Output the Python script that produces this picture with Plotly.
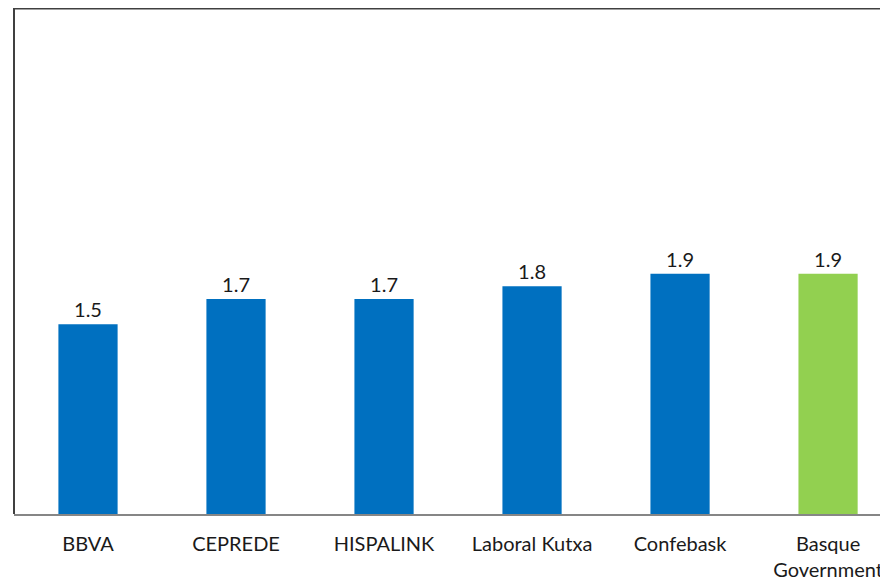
import plotly.graph_objects as go

categories = ["BBVA", "CEPREDE", "HISPALINK", "Laboral Kutxa", "Confebask", "Basque<br>Government"]
values = [1.5, 1.7, 1.7, 1.8, 1.9, 1.9]
value_labels = ["1.5", "1.7", "1.7", "1.8", "1.9", "1.9"]
colors = ["#0070C0", "#0070C0", "#0070C0", "#0070C0", "#0070C0", "#92D050"]

FONT = "Lato"

fig = go.Figure()
fig.add_trace(go.Bar(
    x=categories, y=values, marker=dict(color=colors, line=dict(width=0)),
    text=value_labels, textposition="outside", cliponaxis=False,
    textfont=dict(family=FONT, size=20, color="#1a1a1a"),
    width=0.4,
))

fig.update_layout(
    width=880, height=573,
    margin=dict(l=6, r=0, t=0, b=67),
    paper_bgcolor="white", plot_bgcolor="white",
    showlegend=False,
    font=dict(family=FONT, size=20, color="#1a1a1a"),
    xaxis=dict(range=[-0.5, 5.405], showline=True, linecolor="#868686", linewidth=2,
               ticks="outside", ticklen=11, tickcolor="rgba(0,0,0,0)",
               showgrid=False, tickfont=dict(family=FONT, size=20, color="#1a1a1a")),
    yaxis=dict(range=[0, 4], showgrid=False, showticklabels=False, zeroline=False,
               showline=False),
    shapes=[
        dict(type="line", xref="paper", yref="paper", x0=0, x1=1, y0=1, y1=1,
             line=dict(color="#404040", width=3)),
        dict(type="line", xref="paper", yref="paper", x0=0, x1=0, y0=0, y1=1,
             line=dict(color="#404040", width=2)),
    ],
)

fig.write_html("out.html")
